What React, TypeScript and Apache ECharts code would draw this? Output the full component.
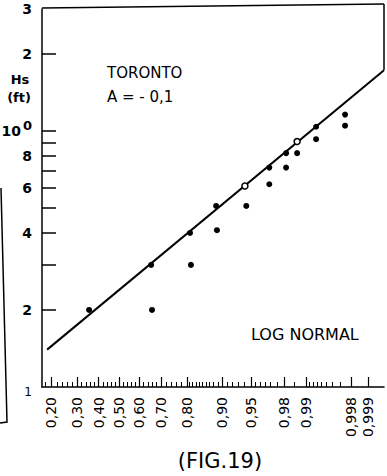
import React, { useEffect, useRef } from 'react';
import * as echarts from 'echarts';

// ---- data ----
// probability (non-exceedance) tick labels on the normal-probability x axis
const probLabels = [0.2, 0.3, 0.4, 0.5, 0.6, 0.7, 0.8, 0.9, 0.95, 0.98, 0.99, 0.998, 0.999];
const probLabelText = ['0,20', '0,30', '0,40', '0,50', '0,60', '0,70', '0,80', '0,90', '0,95', '0,98', '0,99', '0,998', '0,999'];
// Hs (ft) ticks / labels on the log y axis
const hsTicks = [0.2, 0.3, 0.4, 0.5, 0.6, 0.7, 0.8, 0.9, 1, 2];
const hsLabels = [0.1, 0.2, 0.4, 0.6, 0.8, 1, 2, 3];
const hsLabelText = ['1', '2', '4', '6', '8', '10⁰', '2', '3'];

// points lying on the fitted line (filled)
const onLineP = [0.355, 0.655, 0.811, 0.886, 0.969, 0.981, 0.9928];
const onLineHs = [0.2, 0.3, 0.4, 0.51, 0.72, 0.82, 1.04];
// points on the line drawn as open circles
const openP = [0.941, 0.9865];
const openHs = [0.61, 0.91];
// points below the line
const belowP = [0.659, 0.814, 0.888, 0.943, 0.969, 0.981, 0.9865, 0.9928, 0.9975, 0.9975];
const belowHs = [0.2, 0.3, 0.41, 0.51, 0.62, 0.72, 0.82, 0.93, 1.05, 1.16];
// fitted log-normal line end points
const fitP = [0.186, 0.9995];
const fitHs = [0.14, 1.73];

// axis extent
const xMinP = 0.1694;
const xMaxP = 0.9995;
const yMinHs = 0.1;
const yMaxHs = 3;

function normInv(p: number): number {
  const a = [-3.969683028665376e1, 2.209460984245205e2, -2.759285104469687e2, 1.38357751867269e2, -3.066479806614716e1, 2.506628277459239];
  const b = [-5.447609879822406e1, 1.615858368580409e2, -1.556989798598866e2, 6.680131188771972e1, -1.328068155288572e1];
  const c = [-7.784894002430293e-3, -3.223964580411365e-1, -2.400758277161838, -2.549732539343734, 4.374664141464968, 2.938163982698783];
  const d = [7.784695709041462e-3, 3.224671290700398e-1, 2.445134137142996, 3.754408661907416];
  const pl = 0.02425;
  const ph = 1 - pl;
  let q: number, r: number;
  if (p < pl) {
    q = Math.sqrt(-2 * Math.log(p));
    return (((((c[0] * q + c[1]) * q + c[2]) * q + c[3]) * q + c[4]) * q + c[5]) / ((((d[0] * q + d[1]) * q + d[2]) * q + d[3]) * q + 1);
  }
  if (p <= ph) {
    q = p - 0.5;
    r = q * q;
    return ((((((a[0] * r + a[1]) * r + a[2]) * r + a[3]) * r + a[4]) * r + a[5]) * q) / (((((b[0] * r + b[1]) * r + b[2]) * r + b[3]) * r + b[4]) * r + 1);
  }
  q = Math.sqrt(-2 * Math.log(1 - p));
  return -(((((c[0] * q + c[1]) * q + c[2]) * q + c[3]) * q + c[4]) * q + c[5]) / ((((d[0] * q + d[1]) * q + d[2]) * q + d[3]) * q + 1);
}

function minorProbs(): number[] {
  const out: number[] = [];
  const add = (from: number, to: number, step: number) => {
    const n = Math.round((to - from) / step);
    for (let i = 0; i <= n; i++) {
      const v = +(from + i * step).toFixed(4);
      if (!probLabels.some((m) => Math.abs(m - v) < 1e-9) && !out.includes(v)) out.push(v);
    }
  };
  add(0.18, 0.8, 0.02);
  add(0.8, 0.95, 0.01);
  add(0.95, 0.99, 0.005);
  add(0.99, 0.999, 0.001);
  return out;
}

const FONT = 'DejaVu Sans';

export default function App() {
  const ref = useRef<HTMLDivElement>(null);

  useEffect(() => {
    document.body.style.margin = '0';
    if (!ref.current) return;
    const chart = echarts.init(ref.current, undefined, { renderer: 'svg' });

    const toPt = (p: number[], h: number[]) => p.map((v, i) => [normInv(v), Math.log10(h[i])]);
    const majorZ = probLabels.map(normInv);
    const minorZ = minorProbs().map(normInv);
    const xMin = normInv(xMinP);
    const xMax = normInv(xMaxP);

    const xLabel = (v: number) => {
      let best = 0;
      let bd = Infinity;
      majorZ.forEach((z, i) => {
        const d = Math.abs(z - v);
        if (d < bd) { bd = d; best = i; }
      });
      return probLabelText[best];
    };
    const yLabel = (v: number) => {
      let best = 0;
      let bd = Infinity;
      hsLabels.forEach((h, i) => {
        const d = Math.abs(Math.log10(h) - v);
        if (d < bd) { bd = d; best = i; }
      });
      const t = hsLabelText[best];
      if (t === '10⁰') return '{n|10}{s|0}';
      if (best === 0) return '{t|' + t + '}';
      return '{n|' + t + '}';
    };

    const option: any = {
      animation: false,
      backgroundColor: '#fff',
      grid: { left: 42, right: 3, top: 9, bottom: 89, containLabel: false, outerBoundsMode: 'none' },
      xAxis: [
        {
          type: 'value',
          min: xMin,
          max: xMax,
          position: 'bottom',
          splitLine: { show: false },
          axisLine: { show: true, onZero: false, lineStyle: { color: '#000', width: 1.5 } },
          axisTick: { show: true, inside: true, length: 10, customValues: majorZ, lineStyle: { color: '#000', width: 1.2 } },
          axisLabel: {
            show: true,
            customValues: majorZ,
            rotate: 90,
            margin: 10,
            formatter: xLabel,
            color: '#000',
            fontSize: 14,
            fontFamily: FONT,
          },
        },
        {
          type: 'value',
          min: xMin,
          max: xMax,
          position: 'bottom',
          splitLine: { show: false },
          axisLine: { show: false, onZero: false },
          axisTick: { show: true, inside: true, length: 5, customValues: minorZ, lineStyle: { color: '#000', width: 1 } },
          axisLabel: { show: false },
        },
      ],
      yAxis: {
        type: 'value',
        min: Math.log10(yMinHs),
        max: Math.log10(yMaxHs),
        splitLine: { show: false },
        axisLine: { show: true, onZero: false, lineStyle: { color: '#000', width: 1.5 } },
        axisTick: { show: true, inside: true, length: 14, customValues: hsTicks.map((h) => Math.log10(h)), lineStyle: { color: '#000', width: 1.5 } },
        axisLabel: {
          show: true,
          customValues: hsLabels.map((h) => Math.log10(h)),
          margin: 10,
          formatter: yLabel,
          color: '#000',
          rich: {
            n: { fontSize: 14, fontWeight: 'bold', fontFamily: FONT, color: '#000', lineHeight: 24 },
            t: { fontSize: 12, fontFamily: FONT, color: '#000', lineHeight: 24, padding: [10, 0, 0, 0] },
            s: { fontSize: 13, fontWeight: 'bold', fontFamily: FONT, color: '#000', verticalAlign: 'top', lineHeight: 12, padding: [0, 0, 0, 2] },
          },
        },
      },
      series: [
        {
          name: 'fit',
          type: 'line',
          xAxisIndex: 0,
          data: toPt(fitP, fitHs),
          showSymbol: false,
          symbol: 'none',
          lineStyle: { color: '#000', width: 2 },
          z: 1,
        },
        {
          name: 'on line',
          type: 'scatter',
          xAxisIndex: 0,
          data: toPt(onLineP, onLineHs),
          symbol: 'circle',
          symbolSize: 6,
          itemStyle: { color: '#000', opacity: 1 },
          z: 3,
        },
        {
          name: 'open',
          type: 'scatter',
          xAxisIndex: 0,
          data: toPt(openP, openHs),
          symbol: 'circle',
          symbolSize: 6,
          itemStyle: { color: '#fff', borderColor: '#000', borderWidth: 1.5, opacity: 1 },
          z: 3,
        },
        {
          name: 'below',
          type: 'scatter',
          xAxisIndex: 0,
          data: toPt(belowP, belowHs),
          symbol: 'circle',
          symbolSize: 6,
          itemStyle: { color: '#000', opacity: 1 },
          z: 3,
        },
      ],
      graphic: [
        { type: 'line', shape: { x1: 42, y1: 8, x2: 384, y2: 4 }, style: { stroke: '#000', lineWidth: 1.5 } },
        { type: 'line', shape: { x1: 384, y1: 4, x2: 384, y2: 70 }, style: { stroke: '#000', lineWidth: 1.5 } },
        { type: 'polyline', shape: { points: [[1, 188], [7, 422], [0, 423]] }, style: { stroke: '#000', lineWidth: 1.5, fill: 'none' } },
        { type: 'text', x: 20, y: 79, style: { text: 'Hs', fontSize: 13, fontWeight: 'bold', fontFamily: FONT, fill: '#000', align: 'center', verticalAlign: 'middle' } },
        { type: 'text', x: 19, y: 97, style: { text: '(ft)', fontSize: 13, fontWeight: 'bold', fontFamily: FONT, fill: '#000', align: 'center', verticalAlign: 'middle' } },
        { type: 'text', x: 107, y: 73, style: { text: 'TORONTO', fontSize: 15, fontFamily: FONT, fill: '#000', align: 'left', verticalAlign: 'middle' } },
        { type: 'text', x: 107, y: 97, style: { text: 'A = - 0,1', fontSize: 15, fontFamily: FONT, fill: '#000', align: 'left', verticalAlign: 'middle' } },
        { type: 'text', x: 251, y: 334, style: { text: 'LOG NORMAL', fontSize: 16, fontFamily: FONT, fill: '#000', align: 'left', verticalAlign: 'middle' } },
        { type: 'text', x: 220, y: 461, style: { text: '(FIG.19)', fontSize: 21, fontFamily: FONT, fill: '#000', align: 'center', verticalAlign: 'middle' } },
      ],
    };

    chart.setOption(option);
    return () => chart.dispose();
  }, []);

  return <div ref={ref} style={{ width: 387, height: 476 }} />;
}
